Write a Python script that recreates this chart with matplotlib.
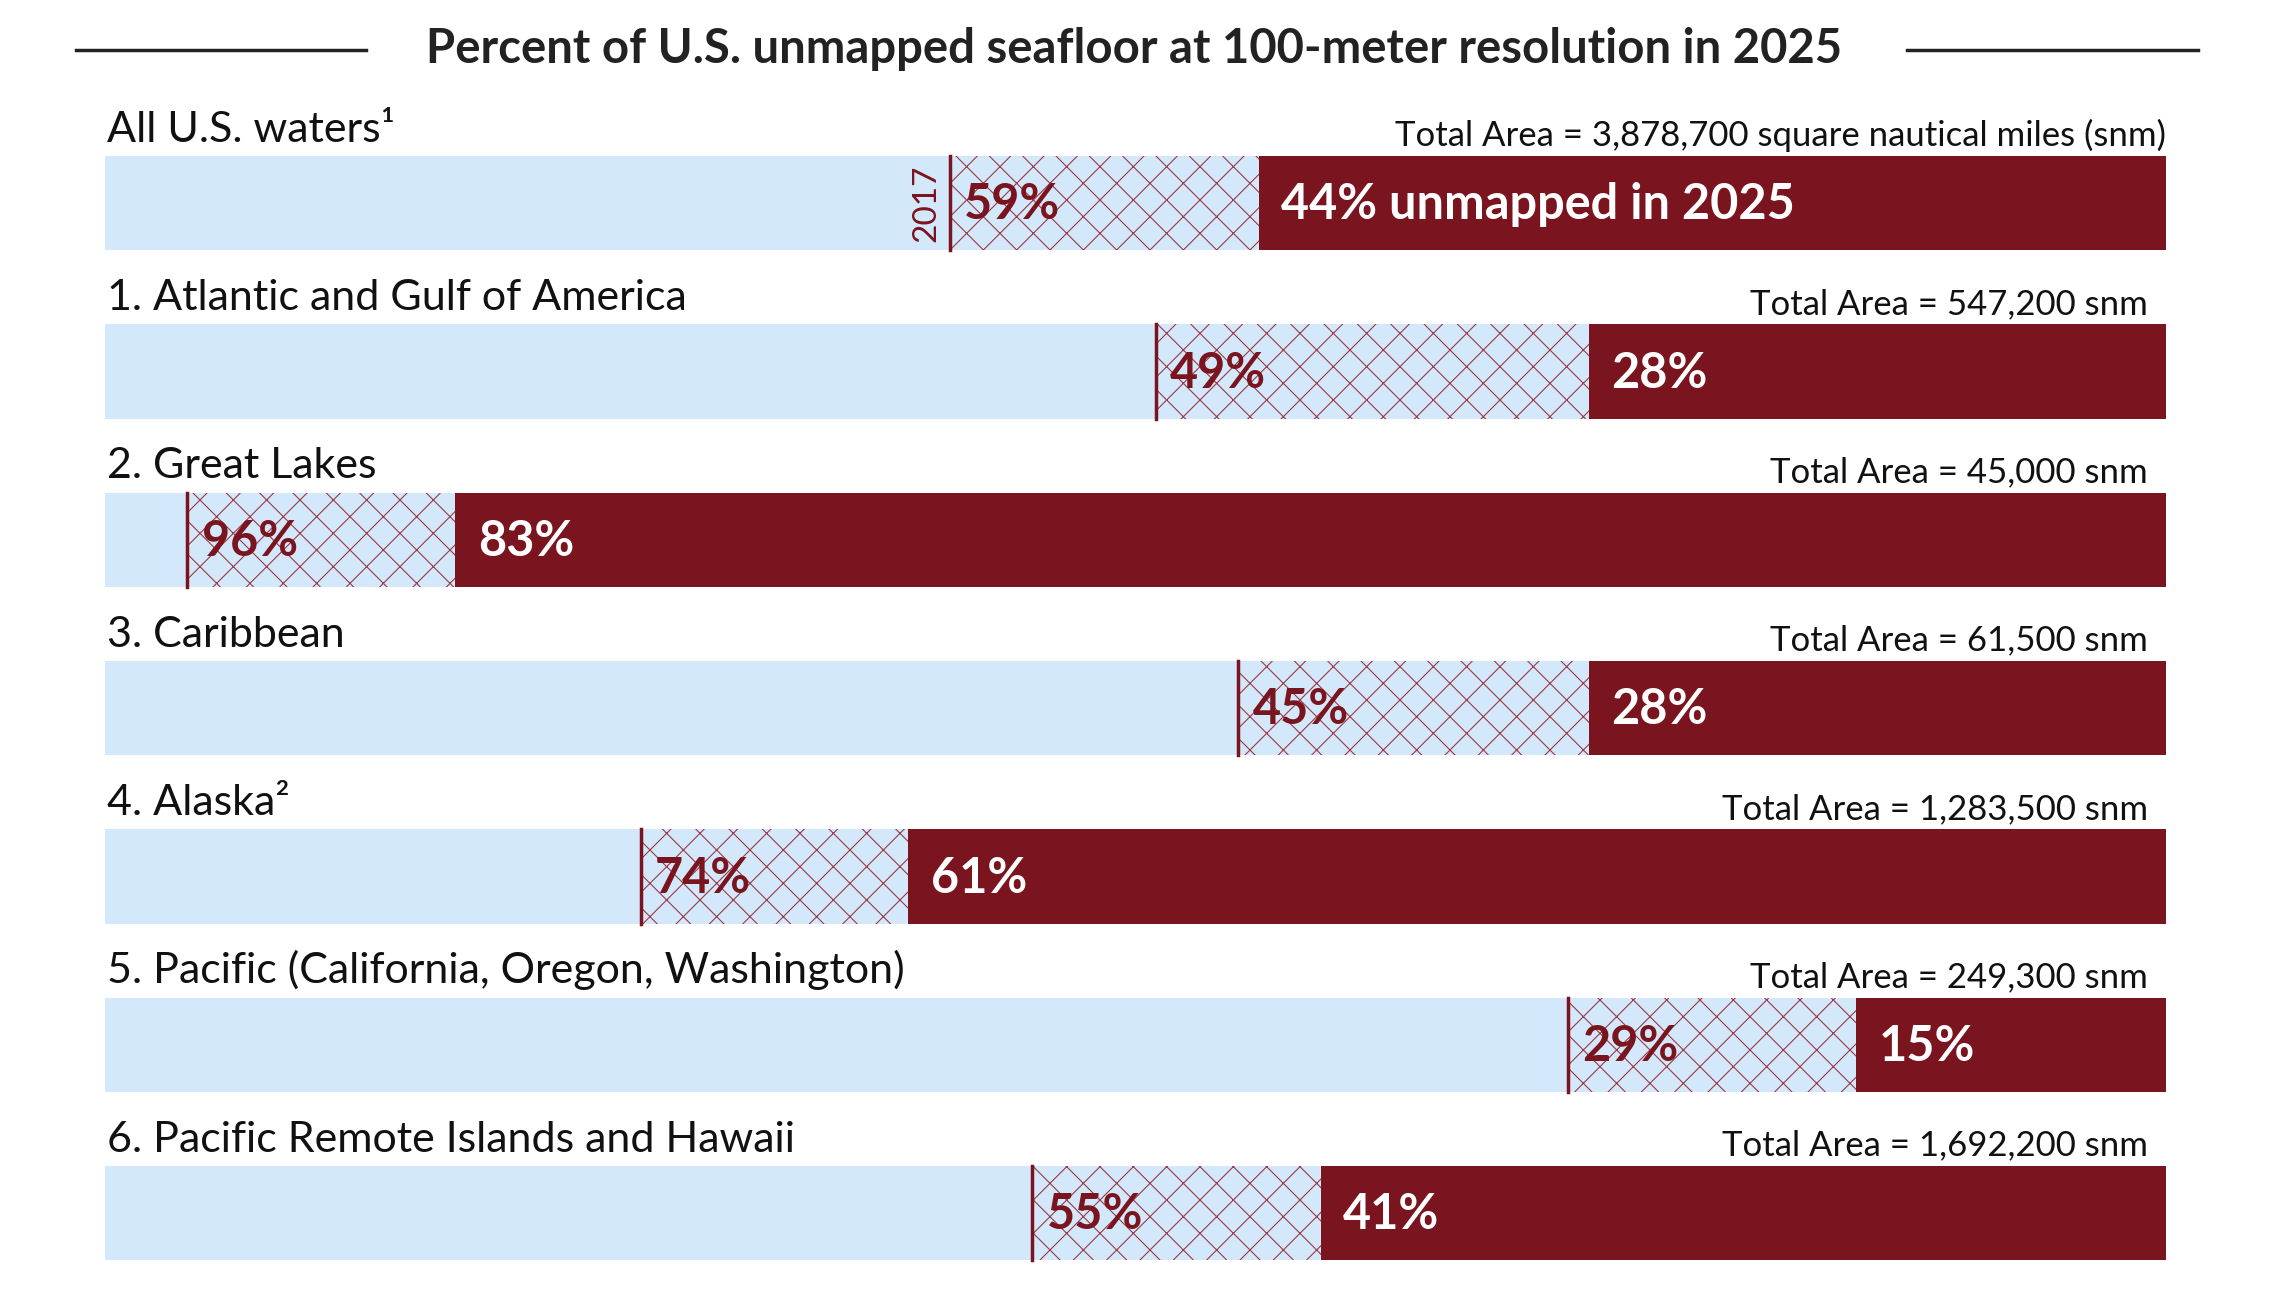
import matplotlib
matplotlib.use("Agg")
import matplotlib.pyplot as plt
from matplotlib.lines import Line2D

regions = ["All U.S. waters¹", "1. Atlantic and Gulf of America", "2. Great Lakes", "3. Caribbean",
           "4. Alaska²", "5. Pacific (California, Oregon, Washington)", "6. Pacific Remote Islands and Hawaii"]
unmapped_2017 = [59, 49, 96, 45, 74, 29, 55]
unmapped_2025 = [44, 28, 83, 28, 61, 15, 41]
total_area = ["Total Area = 3,878,700 square nautical miles (snm)", "Total Area = 547,200 snm",
              "Total Area = 45,000 snm", "Total Area = 61,500 snm", "Total Area = 1,283,500 snm",
              "Total Area = 249,300 snm", "Total Area = 1,692,200 snm"]
title = "Percent of U.S. unmapped seafloor at 100-meter resolution in 2025"

LIGHT = "#d4e8fb"
DARK = "#7a141e"
FONT = "Lato"
plt.rcParams["hatch.linewidth"] = 0.8

W, H = 1568, 880
fig = plt.figure(figsize=(22.79, 12.96), dpi=100)
ax = fig.add_axes([72 / W, 0, 1418 / W, 1])
ax.set_xlim(0, 100)
ax.set_ylim(H, 0)
ax.axis("off")

fig.text(0.5 - 4 / W, 1 - 33 / H, title, ha="center", va="center", fontsize=34, fontweight="bold",
         family=FONT, color="#222222")
for x0, x1 in [(52, 252), (1312, 1512)]:
    fig.add_artist(Line2D([x0 / W, x1 / W], [1 - 34 / H] * 2, color="#222222", lw=2.5))

bh = 64
for i, (name, p17, p25, area) in enumerate(zip(regions, unmapped_2017, unmapped_2025, total_area)):
    top = 106 + i * 114.3
    s17 = 100 - p17
    s25 = 100 - p25
    ax.barh(top + bh / 2, s17, left=0, height=bh, color=LIGHT, lw=0)
    ax.barh(top + bh / 2, s25 - s17, left=s17, height=bh, color=LIGHT, edgecolor="#9a3a44",
            hatch="x", lw=0)
    ax.barh(top + bh / 2, p25, left=s25, height=bh, color=DARK, lw=0)
    ax.plot([s17, s17], [top, top + bh], color=DARK, lw=2.5)
    ax.text(0.1, top - 5, name, ha="left", va="bottom", fontsize=31, family=FONT, color="#111111")
    ax.text(100 if i == 0 else 99.15, top - 3, area, ha="right", va="bottom", fontsize=25,
            family=FONT, color="#111111")
    ax.text(s17 + 0.7, top + bh / 2 + 1, f"{p17}%", ha="left", va="center", fontsize=35,
            fontweight="bold", family=FONT, color=DARK)
    lab = f"{p25}% unmapped in 2025" if i == 0 else f"{p25}%"
    ax.text(s25 + 1.1, top + bh / 2 + 1, lab, ha="left", va="center", fontsize=35,
            fontweight="bold", family=FONT, color="white")
    if i == 0:
        ax.text(s17 - 0.4, top + bh / 2, "2017", ha="right", va="center", rotation=90,
                fontsize=24, family=FONT, color=DARK)

fig.savefig("out.png", dpi=100)
